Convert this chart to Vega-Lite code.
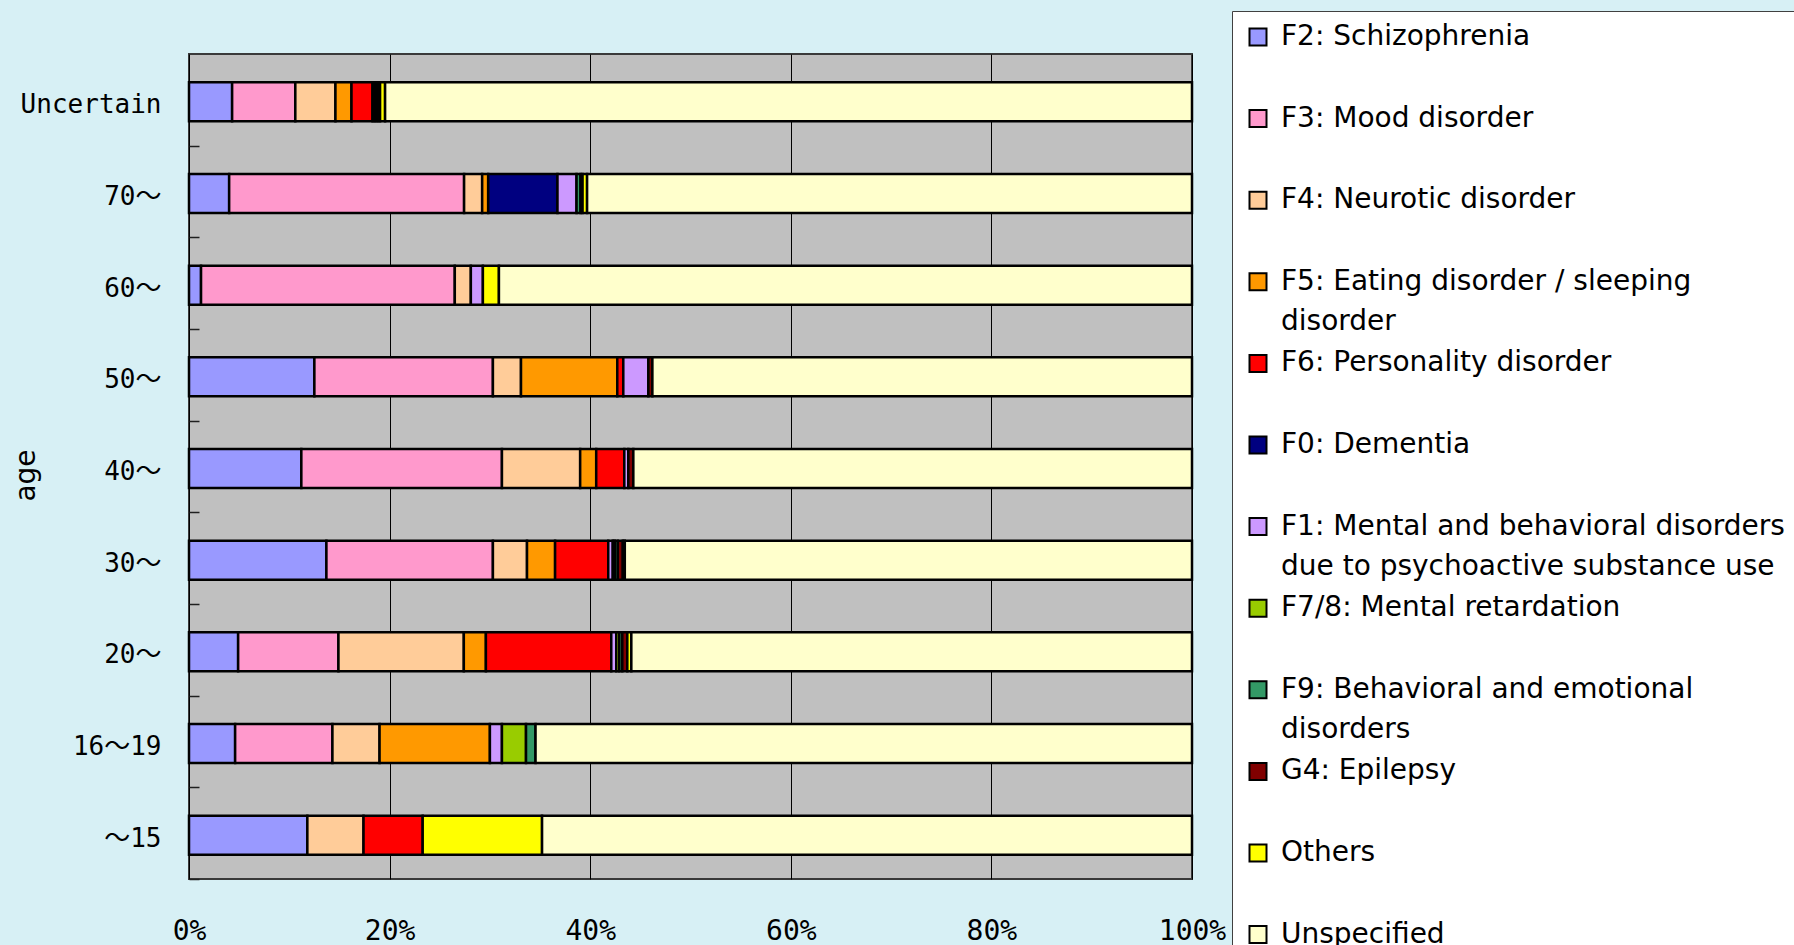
{
  "$schema": "https://vega.github.io/schema/vega-lite/v6.json",
  "width": 1003,
  "height": 825,
  "autosize": {"type": "none"},
  "padding": {"left": 189, "top": 54, "right": 602, "bottom": 66},
  "background": "#D7F0F5",
  "config": {"view": {"fill": "#C0C0C0", "stroke": "#3a3a3a", "strokeWidth": 2}},
  "datasets": {
    "cats": [
      {"dx": "F2: Schizophrenia", "o": 1},
      {"dx": "F3: Mood disorder", "o": 2},
      {"dx": "F4: Neurotic disorder", "o": 3},
      {"dx": "F5: Eating disorder / sleeping disorder", "o": 4},
      {"dx": "F6: Personality disorder", "o": 5},
      {"dx": "F0: Dementia", "o": 6},
      {"dx": "F1: Mental and behavioral disorders due to psychoactive substance use", "o": 7},
      {"dx": "F7/8: Mental retardation", "o": 8},
      {"dx": "F9: Behavioral and emotional disorders", "o": 9},
      {"dx": "G4: Epilepsy", "o": 10},
      {"dx": "Others", "o": 11},
      {"dx": "Unspecified", "o": 12}
    ]
  },
  "data": {
    "values": [
      {"age": "Uncertain", "dx": "F2: Schizophrenia", "v": 4.3},
      {"age": "Uncertain", "dx": "F3: Mood disorder", "v": 6.3},
      {"age": "Uncertain", "dx": "F4: Neurotic disorder", "v": 4.0},
      {"age": "Uncertain", "dx": "F5: Eating disorder / sleeping disorder", "v": 1.6},
      {"age": "Uncertain", "dx": "F6: Personality disorder", "v": 2.1},
      {"age": "Uncertain", "dx": "F0: Dementia", "v": 0.25},
      {"age": "Uncertain", "dx": "F1: Mental and behavioral disorders due to psychoactive substance use", "v": 0.25},
      {"age": "Uncertain", "dx": "G4: Epilepsy", "v": 0.25},
      {"age": "Uncertain", "dx": "Others", "v": 0.5},
      {"age": "Uncertain", "dx": "Unspecified", "v": 80.45},

      {"age": "70～", "dx": "F2: Schizophrenia", "v": 4.0},
      {"age": "70～", "dx": "F3: Mood disorder", "v": 23.4},
      {"age": "70～", "dx": "F4: Neurotic disorder", "v": 1.8},
      {"age": "70～", "dx": "F5: Eating disorder / sleeping disorder", "v": 0.6},
      {"age": "70～", "dx": "F0: Dementia", "v": 6.9},
      {"age": "70～", "dx": "F1: Mental and behavioral disorders due to psychoactive substance use", "v": 1.9},
      {"age": "70～", "dx": "F9: Behavioral and emotional disorders", "v": 0.4},
      {"age": "70～", "dx": "G4: Epilepsy", "v": 0.2},
      {"age": "70～", "dx": "Others", "v": 0.45},
      {"age": "70～", "dx": "Unspecified", "v": 60.25},

      {"age": "60～", "dx": "F2: Schizophrenia", "v": 1.2},
      {"age": "60～", "dx": "F3: Mood disorder", "v": 25.3},
      {"age": "60～", "dx": "F4: Neurotic disorder", "v": 1.6},
      {"age": "60～", "dx": "F1: Mental and behavioral disorders due to psychoactive substance use", "v": 1.2},
      {"age": "60～", "dx": "Others", "v": 1.6},
      {"age": "60～", "dx": "Unspecified", "v": 69.1},

      {"age": "50～", "dx": "F2: Schizophrenia", "v": 12.5},
      {"age": "50～", "dx": "F3: Mood disorder", "v": 17.8},
      {"age": "50～", "dx": "F4: Neurotic disorder", "v": 2.8},
      {"age": "50～", "dx": "F5: Eating disorder / sleeping disorder", "v": 9.6},
      {"age": "50～", "dx": "F6: Personality disorder", "v": 0.6},
      {"age": "50～", "dx": "F1: Mental and behavioral disorders due to psychoactive substance use", "v": 2.5},
      {"age": "50～", "dx": "G4: Epilepsy", "v": 0.4},
      {"age": "50～", "dx": "Unspecified", "v": 53.8},

      {"age": "40～", "dx": "F2: Schizophrenia", "v": 11.2},
      {"age": "40～", "dx": "F3: Mood disorder", "v": 20.0},
      {"age": "40～", "dx": "F4: Neurotic disorder", "v": 7.8},
      {"age": "40～", "dx": "F5: Eating disorder / sleeping disorder", "v": 1.6},
      {"age": "40～", "dx": "F6: Personality disorder", "v": 2.8},
      {"age": "40～", "dx": "F1: Mental and behavioral disorders due to psychoactive substance use", "v": 0.4},
      {"age": "40～", "dx": "G4: Epilepsy", "v": 0.5},
      {"age": "40～", "dx": "Unspecified", "v": 55.7},

      {"age": "30～", "dx": "F2: Schizophrenia", "v": 13.7},
      {"age": "30～", "dx": "F3: Mood disorder", "v": 16.6},
      {"age": "30～", "dx": "F4: Neurotic disorder", "v": 3.4},
      {"age": "30～", "dx": "F5: Eating disorder / sleeping disorder", "v": 2.8},
      {"age": "30～", "dx": "F6: Personality disorder", "v": 5.3},
      {"age": "30～", "dx": "F1: Mental and behavioral disorders due to psychoactive substance use", "v": 0.45},
      {"age": "30～", "dx": "F7/8: Mental retardation", "v": 0.2},
      {"age": "30～", "dx": "F9: Behavioral and emotional disorders", "v": 0.3},
      {"age": "30～", "dx": "G4: Epilepsy", "v": 0.5},
      {"age": "30～", "dx": "Others", "v": 0.2},
      {"age": "30～", "dx": "Unspecified", "v": 56.55},

      {"age": "20～", "dx": "F2: Schizophrenia", "v": 4.9},
      {"age": "20～", "dx": "F3: Mood disorder", "v": 10.0},
      {"age": "20～", "dx": "F4: Neurotic disorder", "v": 12.5},
      {"age": "20～", "dx": "F5: Eating disorder / sleeping disorder", "v": 2.2},
      {"age": "20～", "dx": "F6: Personality disorder", "v": 12.5},
      {"age": "20～", "dx": "F1: Mental and behavioral disorders due to psychoactive substance use", "v": 0.5},
      {"age": "20～", "dx": "F7/8: Mental retardation", "v": 0.3},
      {"age": "20～", "dx": "F9: Behavioral and emotional disorders", "v": 0.3},
      {"age": "20～", "dx": "G4: Epilepsy", "v": 0.5},
      {"age": "20～", "dx": "Others", "v": 0.4},
      {"age": "20～", "dx": "Unspecified", "v": 55.9},

      {"age": "16～19", "dx": "F2: Schizophrenia", "v": 4.6},
      {"age": "16～19", "dx": "F3: Mood disorder", "v": 9.7},
      {"age": "16～19", "dx": "F4: Neurotic disorder", "v": 4.7},
      {"age": "16～19", "dx": "F5: Eating disorder / sleeping disorder", "v": 11.0},
      {"age": "16～19", "dx": "F1: Mental and behavioral disorders due to psychoactive substance use", "v": 1.2},
      {"age": "16～19", "dx": "F7/8: Mental retardation", "v": 2.4},
      {"age": "16～19", "dx": "F9: Behavioral and emotional disorders", "v": 0.95},
      {"age": "16～19", "dx": "Unspecified", "v": 65.45},

      {"age": "～15", "dx": "F2: Schizophrenia", "v": 11.8},
      {"age": "～15", "dx": "F4: Neurotic disorder", "v": 5.6},
      {"age": "～15", "dx": "F6: Personality disorder", "v": 5.9},
      {"age": "～15", "dx": "Others", "v": 11.9},
      {"age": "～15", "dx": "Unspecified", "v": 64.8}
    ]
  },
  "transform": [
    {"lookup": "dx", "from": {"data": {"name": "cats"}, "key": "dx", "fields": ["o"]}}
  ],
  "mark": {"type": "bar", "stroke": "black", "strokeWidth": 2.5, "yOffset": 2},
  "encoding": {
    "y": {
      "field": "age",
      "type": "nominal",
      "sort": ["Uncertain", "70～", "60～", "50～", "40～", "30～", "20～", "16～19", "～15"],
      "scale": {"paddingInner": 0.575, "paddingOuter": 0.2875},
      "axis": {
        "title": "age",
        "titleFont": "DejaVu Sans",
        "titleFontSize": 28,
        "titleFontWeight": "normal",
        "titleColor": "black",
        "titleAngle": 270,
        "titleX": -173,
        "titleY": 421,
        "titleAlign": "center",
        "titleBaseline": "middle",
        "labelFont": "'DejaVu Sans Mono', 'Noto Sans CJK JP'",
        "labelFontSize": 26,
        "labelColor": "black",
        "labelPadding": 28,
        "labelOffset": -40.83,
        "offset": -10,
        "tickOffset": 45.83,
        "tickSize": 10,
        "tickColor": "#202020",
        "tickWidth": 1.5,
        "domain": false,
        "grid": false,
        "zindex": 1
      }
    },
    "x": {
      "field": "v",
      "type": "quantitative",
      "stack": "normalize",
      "scale": {"domain": [0, 1], "nice": false},
      "axis": {
        "title": null,
        "format": "%",
        "values": [0, 0.2, 0.4, 0.6, 0.8, 1],
        "grid": true,
        "gridColor": "black",
        "gridWidth": 1,
        "ticks": false,
        "domain": false,
        "labelFlush": false,
        "labelPadding": 38,
        "labelFont": "DejaVu Sans Mono",
        "labelFontSize": 28,
        "labelColor": "black"
      }
    },
    "color": {
      "field": "dx",
      "type": "nominal",
      "scale": {
        "domain": [
          "F2: Schizophrenia",
          "F3: Mood disorder",
          "F4: Neurotic disorder",
          "F5: Eating disorder / sleeping disorder",
          "F6: Personality disorder",
          "F0: Dementia",
          "F1: Mental and behavioral disorders due to psychoactive substance use",
          "F7/8: Mental retardation",
          "F9: Behavioral and emotional disorders",
          "G4: Epilepsy",
          "Others",
          "Unspecified"
        ],
        "range": ["#9999FF", "#FF99CC", "#FFCC99", "#FF9900", "#FF0000", "#000080", "#CC99FF", "#99CC00", "#339966", "#800000", "#FFFF00", "#FFFFCC"]
      },
      "legend": {
        "orient": "none",
        "legendX": 1043,
        "legendY": -43,
        "title": null,
        "symbolType": "square",
        "symbolSize": 289,
        "symbolStrokeColor": "black",
        "symbolStrokeWidth": 2,
        "symbolOpacity": 1,
        "labelFont": "DejaVu Sans",
        "labelFontSize": 28,
        "labelColor": "black",
        "labelOffset": 9,
        "labelLimit": 2000,
        "labelBaseline": "middle",
        "rowPadding": 13.6,
        "padding": 12,
        "fillColor": "white",
        "strokeColor": "#404040",
        "labelExpr": "datum.label == 'F5: Eating disorder / sleeping disorder' ? ['F5: Eating disorder / sleeping', 'disorder'] : datum.label == 'F1: Mental and behavioral disorders due to psychoactive substance use' ? ['F1: Mental and behavioral disorders', 'due to psychoactive substance use'] : datum.label == 'F9: Behavioral and emotional disorders' ? ['F9: Behavioral and emotional', 'disorders'] : [datum.label, '']",
        "encode": {"labels": {"update": {"lineHeight": {"value": 40}}}}
      }
    },
    "order": {"field": "o", "type": "quantitative"}
  }
}
